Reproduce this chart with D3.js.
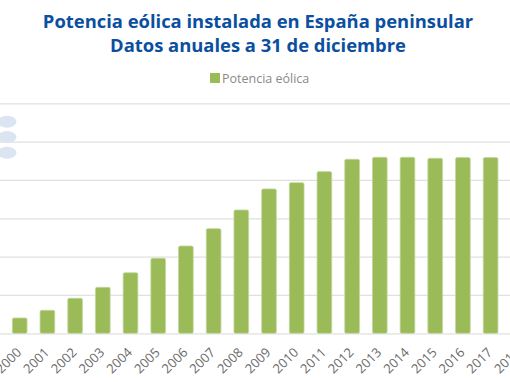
<!DOCTYPE html>
<html><head><meta charset="utf-8">
<script src="https://cdn.jsdelivr.net/npm/d3@7"></script>
<style>body{margin:0;background:#fff;overflow:hidden}</style>
</head><body><svg id="c" width="510" height="382"></svg>
<script>
const years = ["2000","2001","2002","2003","2004","2005","2006","2007","2008","2009","2010","2011","2012","2013","2014","2015","2016","2017","2018"];
const potencia = [2000,3000,4570,6000,7900,9780,11390,13650,16085,18830,19650,21090,22700,22960,22960,22830,22920,22920,null];
const yTicks = [0,5000,10000,15000,20000,25000,30000];
const titleLines = ["Potencia eólica instalada en España peninsular","Datos anuales a 31 de diciembre"];
const legendLabel = "Potencia eólica";

const svg = d3.select("#c");
const x = d3.scaleBand().domain(years).range([5.85, 5.85 + 27.7*years.length]).paddingInner(0.47).paddingOuter(0.235);
const y = d3.scaleLinear().domain([0,30000]).range([333.3, 103.3]);

svg.append("g").selectAll("text").data(titleLines).join("text")
  .attr("x",258).attr("y",(d,i)=>28+i*23.5).attr("text-anchor","middle")
  .attr("font-family","Open Sans").attr("font-weight","bold").attr("font-size",18.4)
  .attr("fill","#0b4f9f").text(d=>d);

// legend
const lg = svg.append("g");
lg.append("rect").attr("x",210).attr("y",73).attr("width",10).attr("height",10).attr("fill","#9bbb59");
lg.append("text").attr("x",222).attr("y",82.5).attr("font-family","Open Sans").attr("font-size",12.5).attr("fill","#8a8a8a").text(legendLabel);

// grid (value labels of the axis lie outside the visible area, as in the reference)
const yAxis = d3.axisLeft(y).tickValues(yTicks).tickSize(-600).tickFormat("");
const gy = svg.append("g").attr("transform","translate(-40,0)").call(yAxis);
gy.select(".domain").remove();
gy.selectAll(".tick line").attr("stroke","#e0e0e0").attr("stroke-width",1.2);

// bars
svg.append("g").selectAll("rect").data(years.map((d,i)=>({k:d,v:potencia[i]})).filter(d=>d.v!=null)).join("rect")
  .attr("x",d=>x(d.k)).attr("width",x.bandwidth())
  .attr("y",d=>y(d.v)).attr("height",d=>y(0)-y(d.v))
  .attr("rx",1.5)
  .attr("fill","#9bbb59").attr("stroke","#c2d89a").attr("stroke-width",0.8);

// x axis
const xAxis = d3.axisBottom(x).tickSize(0).tickPadding(0);
const gx = svg.append("g").attr("transform","translate(0,333.3)").call(xAxis);
gx.select(".domain").remove();
gx.selectAll(".tick text").attr("text-anchor","end").attr("dy",0)
  .attr("transform","translate(2.5,20) rotate(-45)")
  .attr("font-family","Open Sans").attr("font-size",13).attr("fill","#6a6a6a");

// decorative ellipses at left
svg.append("g").selectAll("ellipse").data([121.7,137,152.7]).join("ellipse")
  .attr("cx",7).attr("cy",d=>d).attr("rx",9.5).attr("ry",6).attr("fill","#dbe5f2");
</script></body></html>
